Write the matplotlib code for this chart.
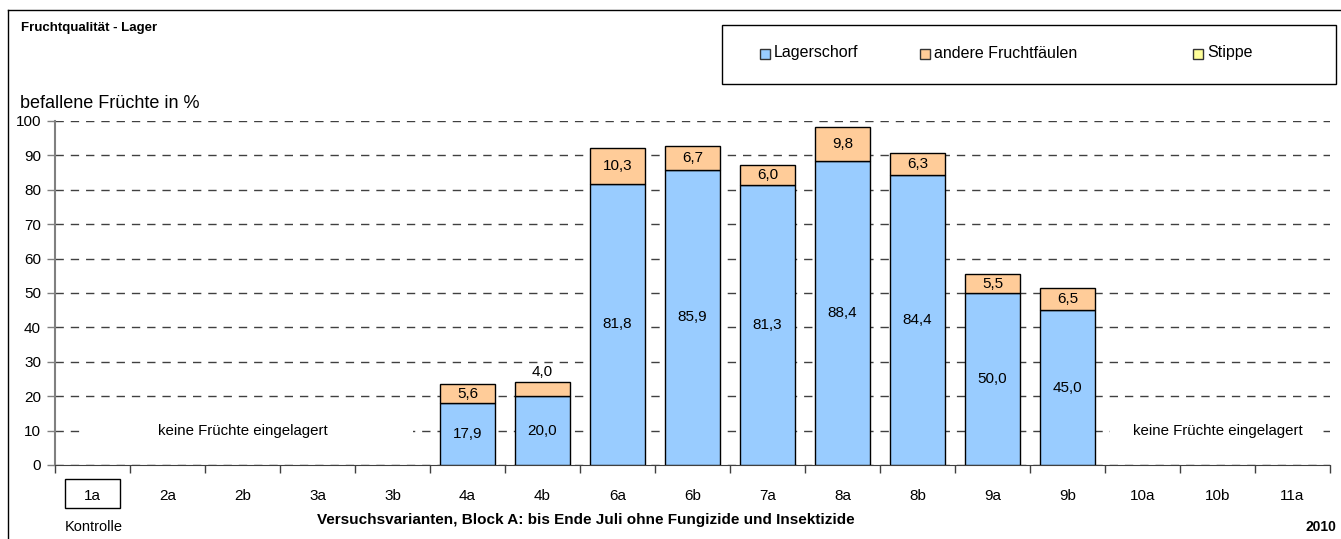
import numpy as np
import matplotlib.pyplot as plt
from matplotlib.patches import Rectangle
from matplotlib.lines import Line2D

plt.rcParams['font.family'] = ['Liberation Sans', 'DejaVu Sans']

# Daten
varianten = ['1a', '2a', '2b', '3a', '3b', '4a', '4b', '6a', '6b', '7a',
             '8a', '8b', '9a', '9b', '10a', '10b', '11a']
lagerschorf = [0, 0, 0, 0, 0, 17.9, 20.0, 81.8, 85.9, 81.3, 88.4, 84.4, 50.0, 45.0, 0, 0, 0]
fruchtfaeulen = [0, 0, 0, 0, 0, 5.6, 4.0, 10.3, 6.7, 6.0, 9.8, 6.3, 5.5, 6.5, 0, 0, 0]
stippe = [0] * 17
serien = ['Lagerschorf', 'andere Fruchtfäulen', 'Stippe']
farben = ['#99CCFF', '#FFCC99', '#FFFF99']

W, H = 1341, 539
fig = plt.figure(figsize=(W / 100, H / 100), dpi=100)


def fx(x):
    return x / W


def fy(y):
    return 1 - y / H


ax = fig.add_axes([fx(55), fy(465), fx(1330) - fx(55), fy(121) - fy(465)])

x = np.arange(len(varianten))
lager = np.array(lagerschorf)
faeule = np.array(fruchtfaeulen)
stip = np.array(stippe)

# nur Varianten mit eingelagerten Früchten zeichnen
m = (lager + faeule + stip) > 0
ax.bar(x[m], lager[m], width=0.73, color=farben[0], edgecolor='black', linewidth=1, zorder=3)
ax.bar(x[m], faeule[m], width=0.73, bottom=lager[m], color=farben[1], edgecolor='black',
       linewidth=1, zorder=3)

# Beschriftungen
for i in x[m]:
    if lager[i] > 0:
        ax.text(x[i], lager[i] / 2, f'{lager[i]:.1f}'.replace('.', ','),
                ha='center', va='center', fontsize=11, zorder=5)
    if faeule[i] > 0:
        if faeule[i] < 5:
            ypos = lager[i] + faeule[i] + 3
        else:
            ypos = lager[i] + faeule[i] / 2
        ax.text(x[i], ypos, f'{faeule[i]:.1f}'.replace('.', ','),
                ha='center', va='center', fontsize=11, zorder=5)

ax.set_xlim(-0.5, len(varianten) - 0.5)
ax.set_ylim(0, 100)
ax.set_yticks(np.arange(0, 101, 10))
ax.tick_params(axis='y', labelsize=11, length=6, width=1, color='#808080', pad=4)
ax.set_xticks(x)
ax.set_xticklabels(varianten)
ax.tick_params(axis='x', which='major', length=0, labelsize=11, pad=17)
ax.set_xticks(np.arange(-0.5, len(varianten)), minor=True)
ax.tick_params(axis='x', which='minor', length=6, width=1, color='#404040')

for s in ['top', 'right']:
    ax.spines[s].set_visible(False)
ax.spines['left'].set_color('#808080')
ax.spines['left'].set_linewidth(1.5)
ax.spines['bottom'].set_color('#404040')

ax.yaxis.grid(True, linestyle=(0, (6, 5)), color='#404040', linewidth=1, zorder=0)
ax.set_axisbelow(True)

# keine Früchte eingelagert
ax.add_patch(Rectangle((-0.17, 6), 4.44, 8, facecolor='white', edgecolor='none', zorder=1))
ax.add_patch(Rectangle((13.57, 6), 2.77, 8, facecolor='white', edgecolor='none', zorder=1))
ax.text(2.0, 10, 'keine Früchte eingelagert', ha='center', va='center', fontsize=10.8, zorder=2)
ax.text(15.0, 10, 'keine Früchte eingelagert', ha='center', va='center', fontsize=10.8, zorder=2)

# Box um 1a
ax.add_patch(Rectangle((-0.367, -0.125), 0.734, 0.084, transform=ax.get_xaxis_transform(),
                       facecolor='none', edgecolor='black', linewidth=1, clip_on=False))

# Texte
fig.text(fx(21), fy(28), 'Fruchtqualität - Lager', fontsize=9.5, fontweight='bold', va='center')
fig.text(fx(20), fy(103), 'befallene Früchte in %', fontsize=13, va='center')
fig.text(fx(65), fy(527), 'Kontrolle', fontsize=10.5, va='center')
fig.text(fx(586), fy(520), 'Versuchsvarianten, Block A: bis Ende Juli ohne Fungizide und Insektizide',
         fontsize=11, fontweight='bold', ha='center', va='center')
fig.text(fx(1336), fy(527), '2010', fontsize=10, fontweight='bold', ha='right', va='center')

# Rahmen
fig.add_artist(Line2D([fx(8), fx(8)], [fy(10), 0], color='black', linewidth=1))
fig.add_artist(Line2D([fx(8), 1], [fy(10), fy(10)], color='black', linewidth=1))

# Legende
fig.add_artist(Rectangle((fx(722), fy(84)), fx(1336) - fx(722), fy(25) - fy(84),
                         facecolor='white', edgecolor='black', linewidth=1))
leg_x = [760, 920, 1193]
for name, col, lx in zip(serien, farben, leg_x):
    fig.add_artist(Rectangle((fx(lx), fy(59)), fx(10), fy(49) - fy(59),
                             facecolor=col, edgecolor='#333333', linewidth=1))
    fig.text(fx(lx + 14), fy(53), name, fontsize=11.5, va='center')

fig.savefig('out.png', dpi=100)
